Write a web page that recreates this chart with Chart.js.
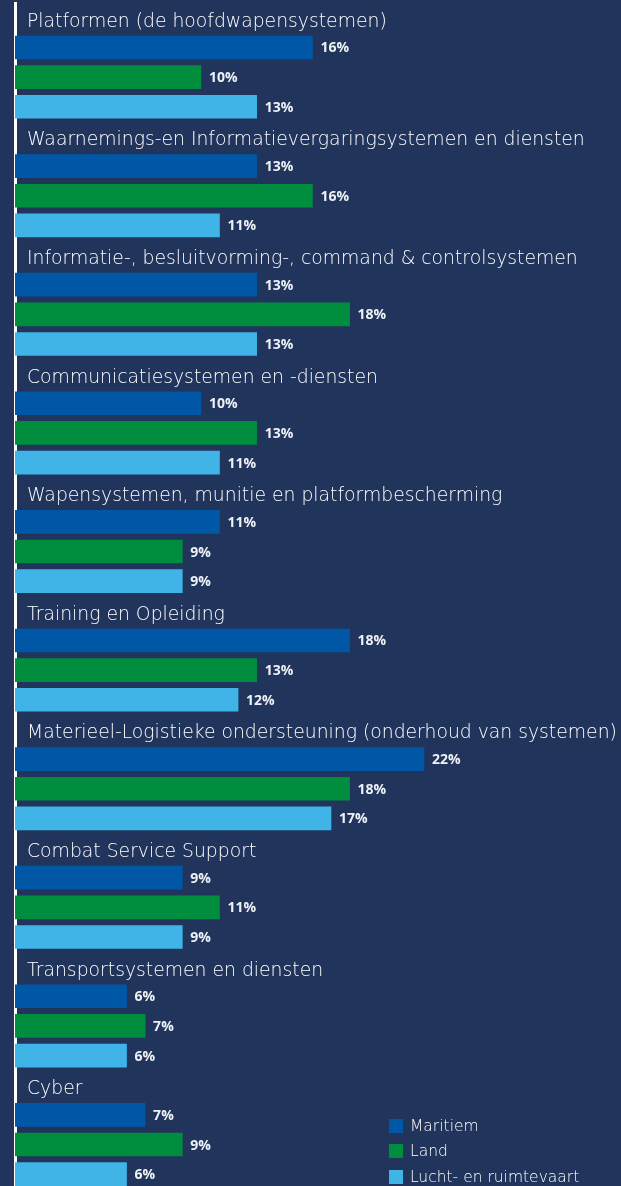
<!DOCTYPE html>
<html lang="nl">
<head>
<meta charset="utf-8">
<title>Defensie-industrie per domein</title>
<script src="https://cdn.jsdelivr.net/npm/chart.js@4.4.1/dist/chart.umd.min.js"></script>
<style>
  html, body { margin: 0; padding: 0; background: #21345c; overflow: hidden; }
  #wrap { position: relative; width: 621px; height: 1190px; }
</style>
</head>
<body>
<div id="wrap"><canvas id="chart"></canvas></div>
<script>
// Themes (one heading row per theme)
const categories = [
  'Platformen (de hoofdwapensystemen)',
  'Waarnemings-en Informatievergaringsystemen en diensten',
  'Informatie-, besluitvorming-, command & controlsystemen',
  'Communicatiesystemen en -diensten',
  'Wapensystemen, munitie en platformbescherming',
  'Training en Opleiding',
  'Materieel-Logistieke ondersteuning (onderhoud van systemen)',
  'Combat Service Support',
  'Transportsystemen en diensten',
  'Cyber'
];

// Share per domain, in percent
const maritiem = [16, 13, 13, 10, 11, 18, 22, 9, 6, 7];
const land     = [10, 16, 18, 13, 9, 13, 18, 11, 7, 9];
const lucht    = [13, 11, 13, 11, 9, 12, 17, 9, 6, 6];

const seriesNames  = ['Maritiem', 'Land', 'Lucht- en ruimtevaart'];
const seriesColors = ['#0057a6', '#008d3e', '#40b4e7'];

const FONT = '"Open Sans", "DejaVu Sans", sans-serif';
const HEAD_FONT = '"DejaVu Sans", sans-serif';
const TEXT = '#eef1f6';
const HEAD_TEXT = '#ffffff';

// Each theme takes four rows: its heading, then one bar per domain.
const rows = [];
categories.forEach(c => rows.push(c, '', '', ''));

function spread(values, slot) {
  const out = new Array(rows.length).fill(null);
  values.forEach((v, i) => { out[i * 4 + slot] = v; });
  return out;
}

const allSeries = [maritiem, land, lucht];

// Percentage labels right of every bar
const valueLabels = {
  id: 'valueLabels',
  afterDatasetsDraw(chart) {
    const ctx = chart.ctx;
    ctx.save();
    ctx.fillStyle = TEXT;
    ctx.font = '700 14px ' + FONT;
    ctx.textAlign = 'left';
    ctx.textBaseline = 'middle';
    chart.data.datasets.forEach((ds, di) => {
      const meta = chart.getDatasetMeta(di);
      meta.data.forEach((el, i) => {
        const v = ds.data[i];
        if (v === null || v === undefined) return;
        ctx.fillText(v + '%', el.x + 8, el.y + 1);
      });
    });
    ctx.restore();
  }
};

// Legend block in the lower right corner
const cornerLegend = {
  id: 'cornerLegend',
  afterDraw(chart) {
    const ctx = chart.ctx;
    ctx.save();
    ctx.font = '300 15.5px ' + HEAD_FONT;
    ctx.textBaseline = 'middle';
    ctx.textAlign = 'left';
    const x = 389, ys = [1126, 1151, 1177];
    chart.data.datasets.forEach((ds, i) => {
      ctx.fillStyle = ds.backgroundColor;
      ctx.fillRect(x, ys[i] - 7, 14, 14);
      ctx.fillStyle = HEAD_TEXT;
      ctx.fillText(ds.label, x + 21, ys[i] + 1);
    });
    ctx.restore();
  }
};

new Chart(document.getElementById('chart'), {
  type: 'bar',
  data: {
    labels: rows,
    datasets: seriesNames.map((name, s) => ({
      label: name,
      data: spread(allSeries[s], s + 1),
      backgroundColor: seriesColors[s],
      borderWidth: 0,
      barThickness: 23,
      grouped: false
    }))
  },
  options: {
    indexAxis: 'y',
    responsive: true,
    maintainAspectRatio: false,
    animation: false,
    layout: { padding: { left: 15, right: 0, top: 3, bottom: 1 } },
    scales: {
      x: {
        display: false,
        min: 0,
        max: 32.6
      },
      y: {
        position: 'left',
        grid: { display: false, drawTicks: false },
        border: { display: true, color: '#ffffff', width: 3 },
        afterFit(scale) {
          // headings sit inside the plot, so the axis needs no room of its own
          scale.width = 0;
          scale.paddingTop = 0;
          scale.paddingBottom = 0;
        },
        ticks: {
          mirror: true,
          padding: 12,
          labelOffset: 4,
          color: HEAD_TEXT,
          autoSkip: false,
          font: { family: HEAD_FONT, size: 18.8, weight: '300' }
        }
      }
    },
    plugins: {
      legend: { display: false },
      tooltip: { enabled: false }
    }
  },
  plugins: [valueLabels, cornerLegend]
});
</script>
</body>
</html>
